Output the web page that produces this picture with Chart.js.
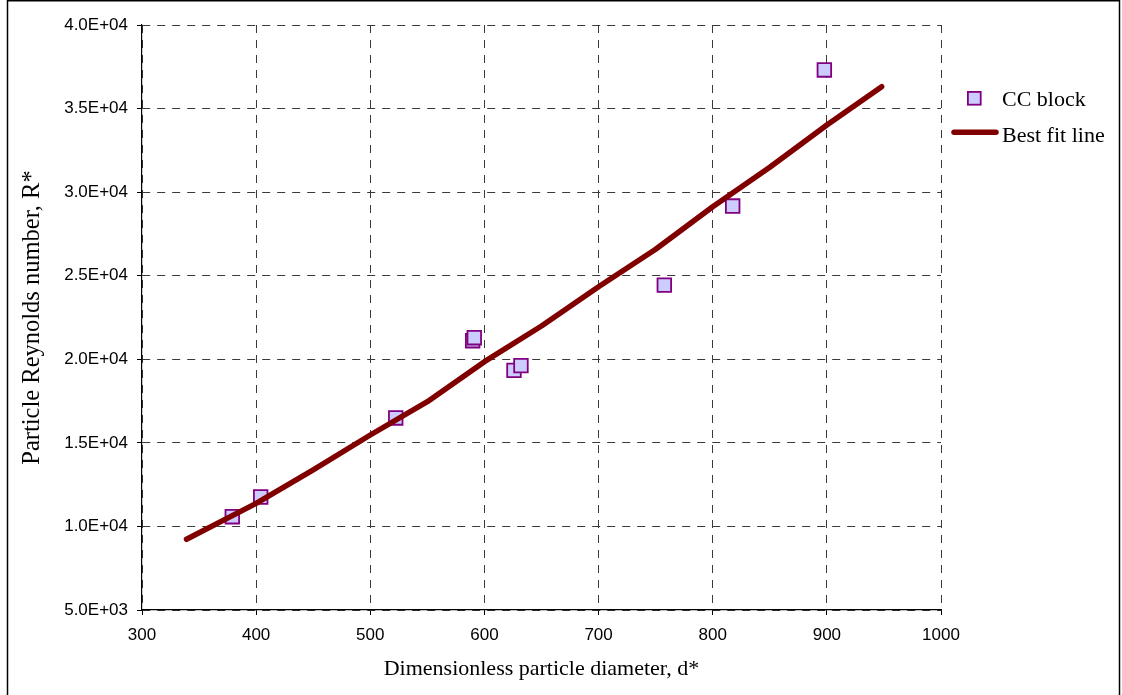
<!DOCTYPE html>
<html>
<head>
<meta charset="utf-8">
<script src="https://cdn.jsdelivr.net/npm/chart.js@4/dist/chart.umd.min.js"></script>
<style>
  html, body { margin: 0; padding: 0; background: #fff; }
  #wrap { position: relative; width: 1122px; height: 695px; }
  canvas { display: block; }
</style>
</head>
<body>
<div id="wrap"><canvas id="c" width="1122" height="695"></canvas></div>
<script>
// Measured CC block points: dimensionless diameter d* vs particle Reynolds number R*
const blockD = [379.1, 404.0, 522.3, 589.7, 591.1, 625.9, 632.0, 757.6, 817.5, 897.8];
const blockR = [10580, 11760, 16490, 21110, 21290, 19340, 19620, 24440, 29170, 37310];

// Best fit line, sampled along its length
const fitD = [339, 400, 450, 500, 550, 600, 650, 700, 750, 800, 850, 900, 948];
const fitR = [9230, 11380, 13380, 15470, 17460, 19860, 21990, 24340, 26580, 29130, 31490, 34020, 36310];

const seriesNames = ['CC block', 'Best fit line'];
const xTitle = 'Dimensionless particle diameter, d*';
const yTitle = 'Particle Reynolds number, R*';

const markerFill = '#CCCCFF';
const markerEdge = '#800080';
const lineColor = '#800000';

const toPoints = (xs, ys) => xs.map((x, i) => ({ x: x, y: ys[i] }));

// "4.0E+04" style labels
function sci(v) {
  if (v === 0) return '0.0E+00';
  const e = Math.floor(Math.log10(Math.abs(v)) + 1e-9);
  const m = v / Math.pow(10, e);
  const sign = e < 0 ? '-' : '+';
  const ee = String(Math.abs(e)).padStart(2, '0');
  return m.toFixed(1) + 'E' + sign + ee;
}

const serif = 'Liberation Serif, "Times New Roman", serif';
const sans = 'Liberation Sans, Arial, sans-serif';

// Legend at the right of the plot plus the outer chart frame
const extras = {
  id: 'extras',
  afterDraw(chart) {
    const ctx = chart.ctx;
    ctx.save();
    // frame
    ctx.strokeStyle = '#000';
    ctx.lineWidth = 1.5;
    ctx.strokeRect(7.5, 0.75, 1112, 700);

    // legend: marker entry
    const sq = 12.8;
    ctx.fillStyle = markerFill;
    ctx.strokeStyle = markerEdge;
    ctx.lineWidth = 1.8;
    ctx.fillRect(974.3 - sq / 2, 98.3 - sq / 2, sq, sq);
    ctx.strokeRect(974.3 - sq / 2, 98.3 - sq / 2, sq, sq);

    // legend: line entry
    ctx.strokeStyle = lineColor;
    ctx.lineWidth = 5.5;
    ctx.lineCap = 'round';
    ctx.beginPath();
    ctx.moveTo(954, 132.3);
    ctx.lineTo(996, 132.3);
    ctx.stroke();

    ctx.fillStyle = '#000';
    ctx.font = '22px ' + serif;
    ctx.textAlign = 'left';
    ctx.textBaseline = 'alphabetic';
    ctx.fillText(seriesNames[0], 1002, 105.7);
    ctx.fillText(seriesNames[1], 1002, 141.7);
    ctx.restore();
  }
};

new Chart(document.getElementById('c'), {
  type: 'scatter',
  data: {
    datasets: [
      {
        label: seriesNames[1],
        data: toPoints(fitD, fitR),
        showLine: true,
        borderColor: lineColor,
        borderWidth: 5.5,
        pointRadius: 0,
        pointHoverRadius: 0,
        tension: 0,
        borderCapStyle: 'round',
        borderJoinStyle: 'round',
        order: 0
      },
      {
        label: seriesNames[0],
        data: toPoints(blockD, blockR),
        showLine: false,
        pointStyle: 'rect',
        pointRadius: 9.6,
        pointHoverRadius: 9.6,
        backgroundColor: markerFill,
        borderColor: markerEdge,
        borderWidth: 1.8,
        order: 1
      }
    ]
  },
  options: {
    responsive: false,
    animation: false,
    devicePixelRatio: 1,
    layout: { padding: { left: 0, top: 25, right: 181, bottom: 0 } },
    plugins: {
      legend: { display: false },
      tooltip: { enabled: false }
    },
    scales: {
      x: {
        type: 'linear',
        min: 300,
        max: 1000,
        afterFit(scale) { scale.height = 85; },
        ticks: {
          stepSize: 100,
          color: '#000',
          padding: 10,
          maxRotation: 0,
          font: { family: sans, size: 17 },
          callback: (v) => String(v)
        },
        grid: {
          color: '#3a3a3a',
          lineWidth: 1,
          tickLength: 5,
          tickColor: '#000'
        },
        border: { display: true, color: '#000', width: 1.2, dash: [8, 7] },
        title: {
          display: true,
          text: xTitle,
          color: '#000',
          font: { family: serif, size: 22 },
          padding: { top: 0, bottom: 13 }
        }
      },
      y: {
        type: 'linear',
        min: 5000,
        max: 40000,
        afterFit(scale) { scale.width = 142; },
        ticks: {
          stepSize: 5000,
          color: '#000',
          padding: 9,
          font: { family: sans, size: 17 },
          callback: (v) => sci(v)
        },
        grid: {
          color: '#3a3a3a',
          lineWidth: 1,
          tickLength: 5,
          tickColor: '#000'
        },
        border: { display: true, color: '#000', width: 1.2, dash: [8, 7] },
        title: {
          display: true,
          text: yTitle,
          color: '#000',
          font: { family: serif, size: 24.5 },
          padding: { top: 18, bottom: 0 }
        }
      }
    }
  },
  plugins: [extras]
});
</script>
</body>
</html>
